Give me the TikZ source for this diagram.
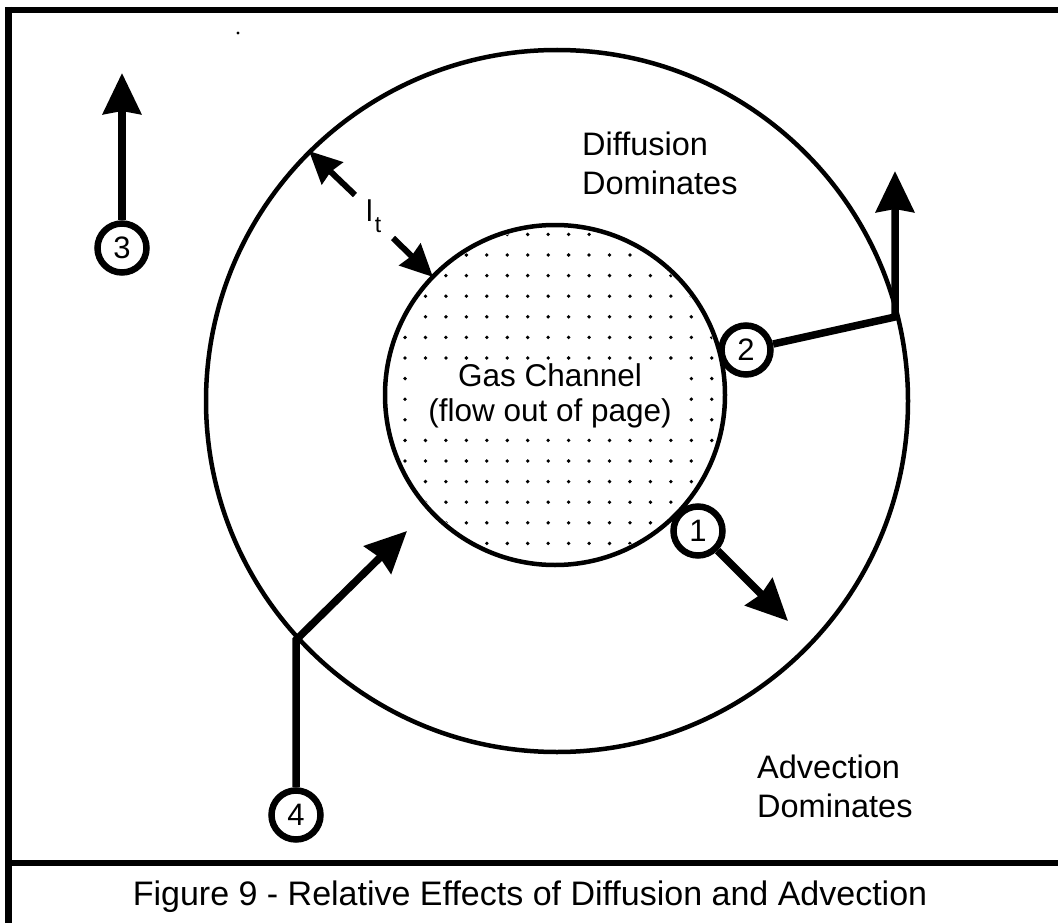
\documentclass[tikz,border=0pt]{standalone}
\usepackage{fontspec}
\setmainfont{Liberation Sans}
\usetikzlibrary{arrows.meta}
\begin{document}
\begin{tikzpicture}[x=1pt,y=-1pt,
  ring/.style={circle,draw,fill=white,line width=6.5pt,minimum size=49pt,inner sep=0pt,font=\fontsize{31}{31}\selectfont},
  bigarrow/.style={line width=7.5pt,-{Stealth[length=41pt,width=38pt,inset=3pt]}},
  ltarrow/.style={line width=6pt,-{Stealth[length=32pt,width=30pt,inset=2pt]}},
  lbl/.style={align=left,font=\fontsize{32.5}{39}\selectfont,inner sep=0pt},
  framelinex/.style={line width=6.5pt},
  bound/.style={line width=4.5pt}]
\useasboundingbox (0,0) rectangle (1058,923);
\fill[white] (0,0) rectangle (1058,923);
% frame
\draw[framelinex] (5,10) -- (1058,10);
\draw[framelinex] (8.5,7) -- (8.5,923);
\draw[framelinex] (8.5,863) -- (1058,863);
% stray speck
\fill (238,33) circle (1.6);
% dotted gas channel
\begin{scope}
\clip (555,395) circle (167);
\foreach \i in {-1,...,16} {
  \foreach \j in {-6,...,10} {
    \fill ({405+20.45*\i},{358+20.6*\j}) circle (1.9);
  }
}
\end{scope}
\draw[bound] (557,401) circle (351);
\draw[bound] (555,395) circle (170);
\node[fill=white,align=center,inner sep=0pt,minimum width=262pt,minimum height=66pt,
  font=\fontsize{31.5}{35}\selectfont] (gas) at (550,396) {Gas Channel\\(flow out of page)};
% labels
\node[lbl,anchor=north west] (diff) at (582,132) {Diffusion\\Dominates};
\node[lbl,anchor=north west] (adv) at (757,755) {Advection\\Dominates};
\node[inner sep=0pt,anchor=base,font=\fontsize{34}{34}\selectfont] (cap) at (530,905)
  {Figure 9 - Relative Effects of Diffusion and Advection};
% l_t
\node[inner sep=0pt,anchor=base west,font=\fontsize{30}{30}\selectfont] (lt) at (366,222)
  {l\kern2pt\raisebox{-10pt}{\fontsize{23}{23}\selectfont t}};
\coordinate (lta) at (355,195);
\coordinate (ltA) at (309,151);
\coordinate (ltb) at (393,238);
\coordinate (ltB) at (433,277);
\draw[ltarrow] (lta) -- (ltA);
\draw[ltarrow] (ltb) -- (ltB);
% numbered markers
\node[ring] (n3) at (122,248) {3};
\node[ring] (n2) at (746,350) {2};
\node[ring] (n1) at (698,531) {1};
\node[ring] (n4) at (296,815) {4};
\coordinate (t3) at (122,73);
\coordinate (j2) at (895,317);
\coordinate (t2) at (895,171);
\coordinate (t1) at (788,621);
\coordinate (j4) at (296,640);
\coordinate (t4) at (407,531);
\draw[bigarrow] (n3) -- (t3);
\draw[bigarrow] (n2) -- (j2) -- (t2);
\draw[bigarrow] (n1) -- (t1);
\draw[bigarrow] (n4) -- (j4) -- (t4);
\end{tikzpicture}
\end{document}
